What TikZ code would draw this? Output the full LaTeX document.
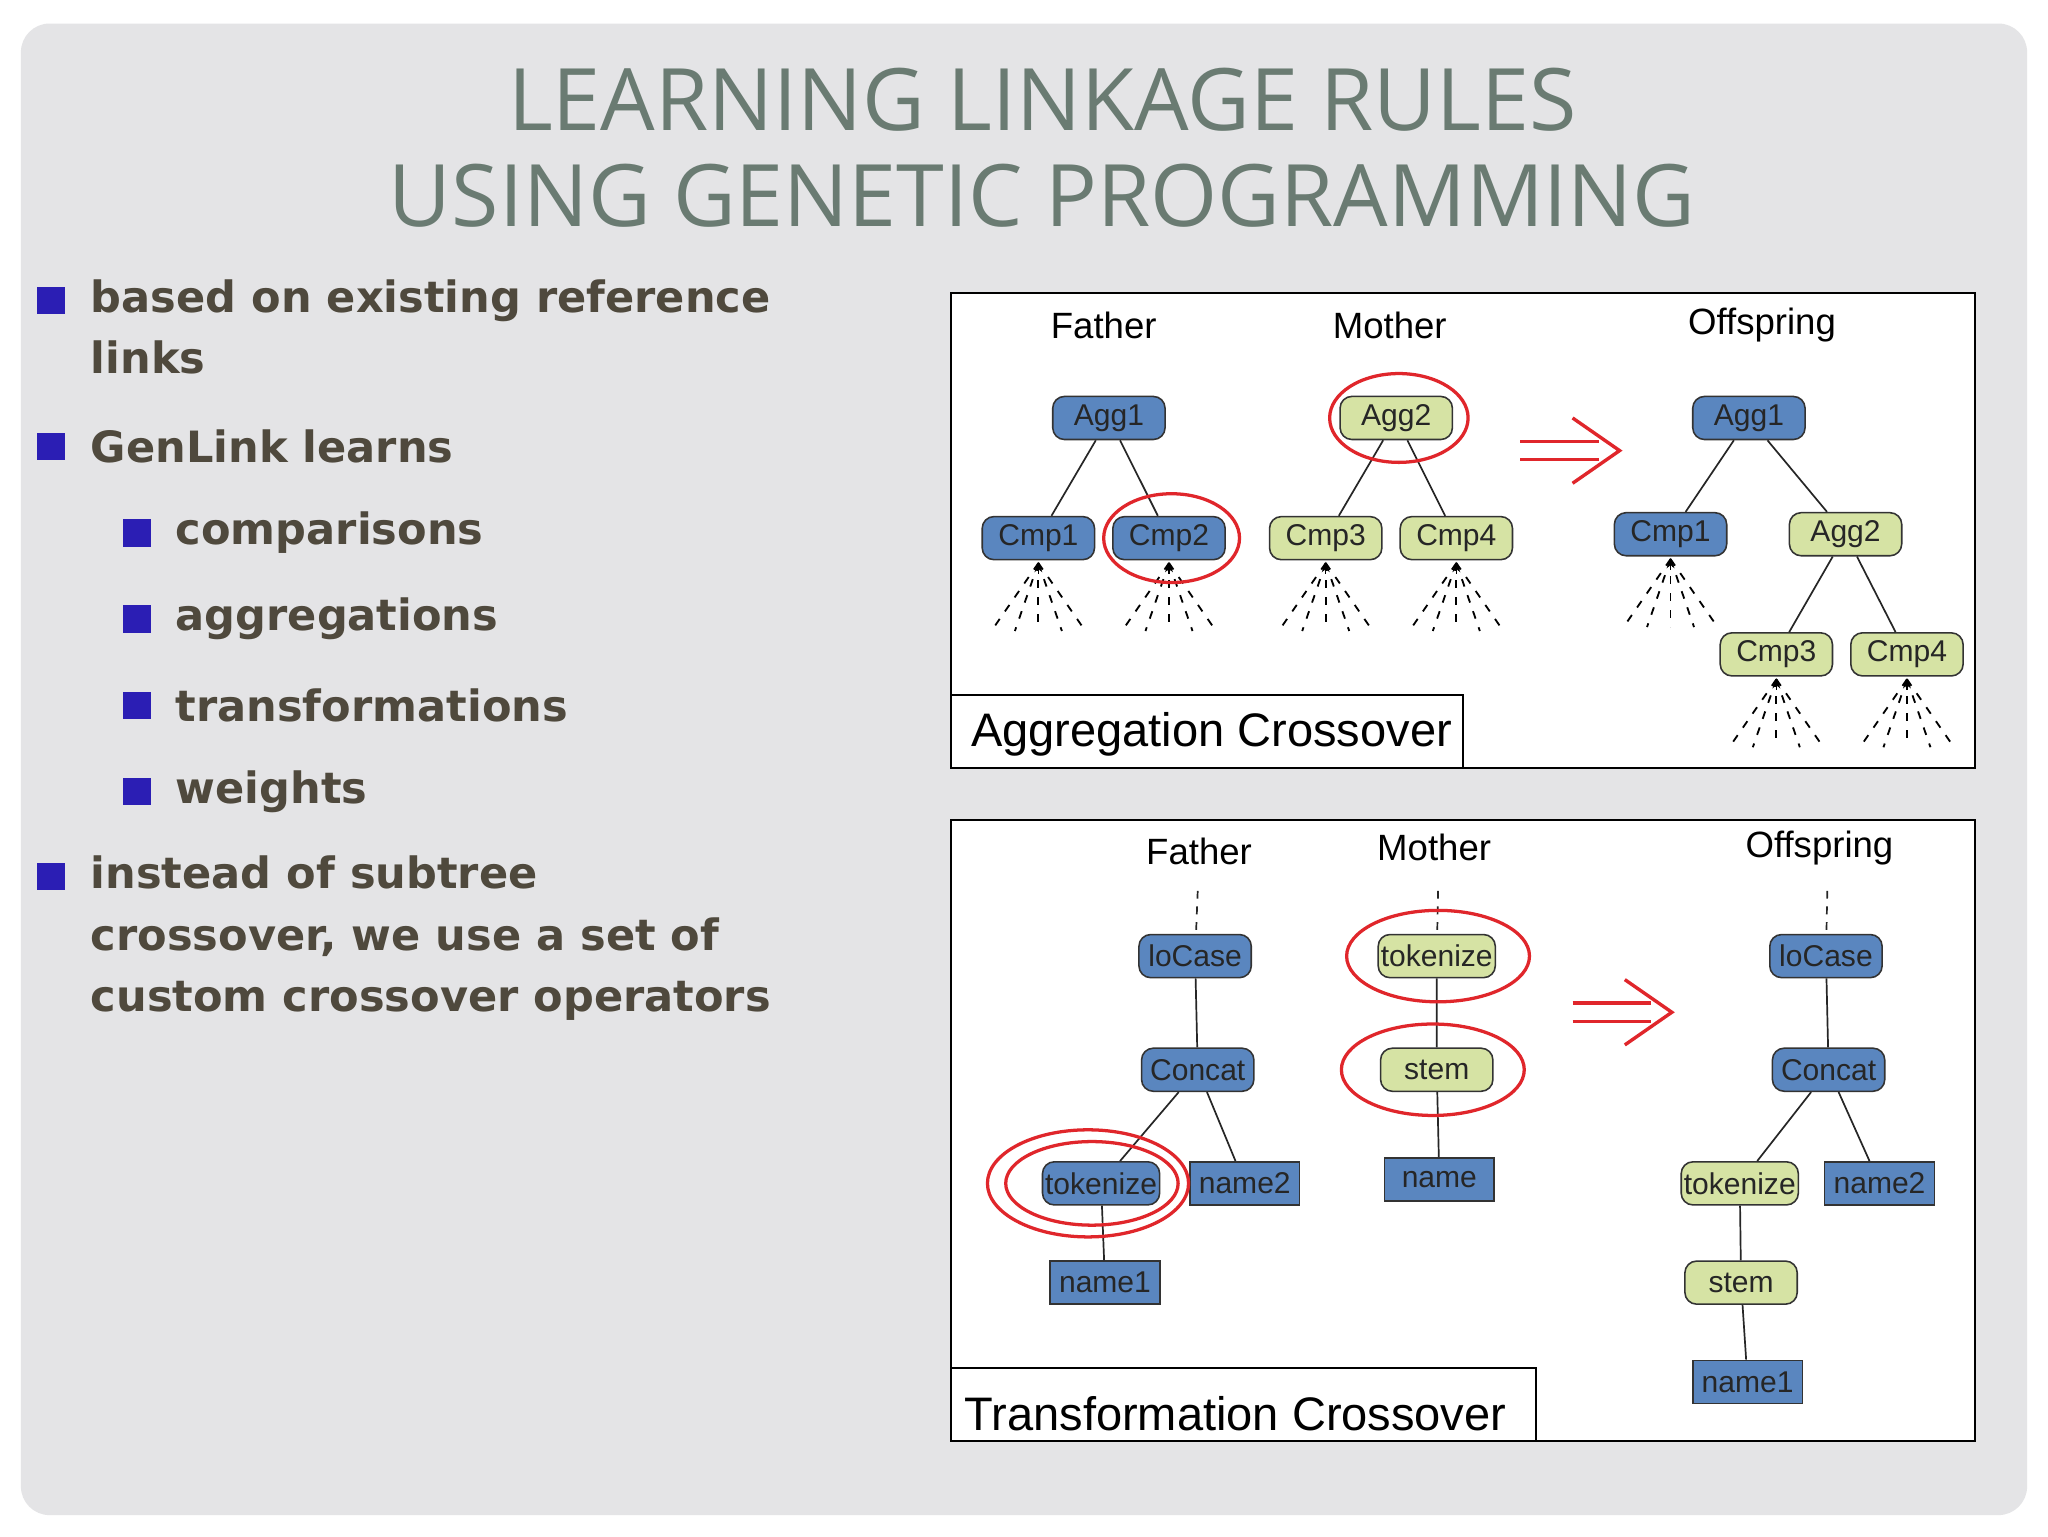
\documentclass[tikz,border=0pt]{standalone}
\usepackage{fontspec}
\setmainfont{Open Sans}
\newfontfamily\dia{Liberation Sans}
\newfontfamily\bod{DejaVu Sans}
\usetikzlibrary{shapes.geometric,arrows.meta,calc}
\definecolor{bgc}{HTML}{E4E4E6}
\definecolor{ttl}{HTML}{6A7B72}
\definecolor{btx}{HTML}{4F493D}
\definecolor{bsq}{HTML}{2B1EB4}
\definecolor{nblue}{HTML}{5A86BF}
\definecolor{ngreen}{HTML}{D6E3A4}
\definecolor{rd}{HTML}{E0262B}
\tikzset{
 bx/.style={draw=black!80,line width=1.2pt,rounded corners=9pt,minimum width=86pt,minimum height=33pt,inner sep=2pt,font=\dia\fontsize{23}{23}\selectfont,text=black!85},
 bl/.style={bx,fill=nblue},
 gr/.style={bx,fill=ngreen},
 rb/.style={bx,fill=nblue,rounded corners=0pt,minimum width=84pt,minimum height=33pt},
 ed/.style={line width=1.3pt,draw=black!85},
 red/.style={draw=rd,line width=2.5pt},
 hd/.style={font=\dia\fontsize{28}{28}\selectfont},
 btext/.style={anchor=west,font=\bod\bfseries\fontsize{33}{47}\selectfont,text=btx},
 sq/.style={fill=bsq,minimum size=21pt,inner sep=0pt},
}
\newcommand{\fan}[1]{%
 \foreach \dx in {-36,-18,0,18,36}{\draw[line width=1.4pt,dash pattern=on 6pt off 7pt] ($(#1.south)+(0,2)$) -- ($(#1.south)+(\dx,54)$);}
 \draw[-{Stealth[length=8pt]},line width=1pt] ($(#1.south)+(0,10)$) -- ($(#1.south)+(0,1)$);}
\newcommand{\dblarrow}[2]{%
 \draw[rd,line width=2.6pt] (#1-4,#2-7) -- (#1+56,#2-7) (#1-4,#2+7) -- (#1+56,#2+7);
 \draw[rd,line width=2.6pt] (#1+36,#2-25) -- (#1+72,#2) -- (#1+36,#2+25);}
\begin{document}
\begin{tikzpicture}[x=1pt,y=-1pt]
\useasboundingbox (0,0) rectangle (1568,1176);
\fill[white] (0,0) rectangle (1568,1176);
\fill[bgc,rounded corners=22pt] (16,18) rectangle (1552,1160);
\node[text=ttl,font=\fontsize{66}{74}\selectfont,align=center] (title) at (798,113) {LEARNING LINKAGE RULES\\USING GENETIC PROGRAMMING};
% bullets
\node[sq] (s1) at (39,230) {}; \node[btext] (t1) at (66,253) {\begin{tabular}{@{}l@{}}based on existing reference\\links\end{tabular}};
\node[sq] (s2) at (39,342) {}; \node[btext] (t2) at (66,342) {GenLink learns};
\node[sq] (s3) at (105,408) {}; \node[btext] (t3) at (131,408) {comparisons};
\node[sq] (s4) at (105,474) {}; \node[btext] (t4) at (131,474) {aggregations};
\node[sq] (s5) at (105,540) {}; \node[btext] (t5) at (131,540) {transformations};
\node[sq] (s6) at (105,606) {}; \node[btext] (t6) at (131,606) {weights};
\node[sq] (s7) at (39,671) {}; \node[btext] (t7) at (66,718) {\begin{tabular}{@{}l@{}}instead of subtree\\crossover, we use a set of\\custom crossover operators\end{tabular}};
% box 1
\draw[fill=white,line width=1.5pt] (728,224) rectangle (1512,588);
\draw[line width=1.5pt] (728,532) rectangle (1120,588);
\node[anchor=west,font=\dia\fontsize{36}{36}\selectfont] (l1) at (740,562) {Aggregation Crossover};
\node[hd] (h1) at (845,249) {Father};
\node[hd] (h2) at (1064,249) {Mother};
\node[hd] (h3) at (1349,249) {Offspring};
\node[bl] (a1) at (849,320) {Agg1};
\node[bl] (c1) at (795,412) {Cmp1};
\node[bl] (c2) at (895,412) {Cmp2};
\node[gr] (a2) at (1069,320) {Agg2};
\node[gr] (c3) at (1015,412) {Cmp3};
\node[gr] (c4) at (1115,412) {Cmp4};
\node[bl] (oa1) at (1339,320) {Agg1};
\node[bl] (oc1) at (1279,409) {Cmp1};
\node[gr] (oa2) at (1413,409) {Agg2};
\node[gr] (oc3) at (1360,501) {Cmp3};
\node[gr] (oc4) at (1460,501) {Cmp4};
\draw[ed] (a1) -- (c1) (a1) -- (c2) (a2) -- (c3) (a2) -- (c4) (oa1) -- (oc1) (oa1) -- (oa2) (oa2) -- (oc3) (oa2) -- (oc4);
\fan{c1}\fan{c2}\fan{c3}\fan{c4}\fan{oc1}\fan{oc3}\fan{oc4}
\draw[red] (1071,320) ellipse [x radius=53,y radius=34];
\draw[red] (897,412) ellipse [x radius=52,y radius=34];
\dblarrow{1168}{345}
% box 2
\draw[fill=white,line width=1.5pt] (728,628) rectangle (1512,1103);
\draw[line width=1.5pt] (728,1047) rectangle (1176,1103);
\node[anchor=west,font=\dia\fontsize{36}{36}\selectfont] (l2) at (735,1082) {Transformation Crossover};
\node[hd] (g1) at (918,652) {Father};
\node[hd] (g2) at (1098,649) {Mother};
\node[hd] (g3) at (1393,649) {Offspring};
\node[bl] (flc) at (915,732) {loCase};
\node[bl] (fcc) at (917,819) {Concat};
\node[bl] (ftk) at (843,906) {tokenize};
\node[rb] (fn2) at (953,906) {name2};
\node[rb] (fn1) at (846,982) {name1};
\node[gr] (mtk) at (1100,732) {tokenize};
\node[gr] (mst) at (1100,819) {stem};
\node[rb] (mnm) at (1102,903) {name};
\node[bl] (olc) at (1398,732) {loCase};
\node[bl] (occ) at (1400,819) {Concat};
\node[gr] (otk) at (1332,906) {tokenize};
\node[rb] (on2) at (1439,906) {name2};
\node[gr] (ost) at (1333,982) {stem};
\node[rb] (on1) at (1338,1058) {name1};
\coordinate (fd) at (917,682); \coordinate (md) at (1101,682); \coordinate (od) at (1399,682);
\draw[ed,dash pattern=on 6pt off 6pt] (fd) -- (flc) (md) -- (mtk) (od) -- (olc);
\draw[ed] (flc) -- (fcc) (fcc) -- (ftk) (fcc) -- (fn2) (ftk) -- (fn1) (mtk) -- (mst) (mst) -- (mnm)
 (olc) -- (occ) (occ) -- (otk) (occ) -- (on2) (otk) -- (ost) (ost) -- (on1);
\draw[red] (1101,732) ellipse [x radius=70,y radius=35];
\draw[red] (1097,819) ellipse [x radius=70,y radius=35];
\draw[red] (833,906) ellipse [x radius=77,y radius=41];
\draw[red] (836,906) ellipse [x radius=66,y radius=32];
\dblarrow{1208}{775}
\end{tikzpicture}
\end{document}
